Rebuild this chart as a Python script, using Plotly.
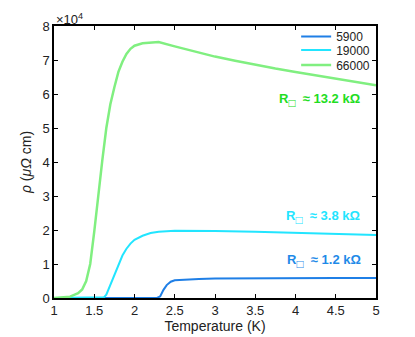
import plotly.graph_objs as pgo

# temperature (K) and resistivity (x1e4 uOhm cm)
t_5900 = [1.0, 2.0, 2.28, 2.32, 2.36, 2.4, 2.45, 2.5, 2.6, 2.8, 3.0, 3.5, 4.0, 4.5, 5.0]
rho_5900 = [0.0, 0.0, 0.0, 0.05, 0.24, 0.38, 0.48, 0.52, 0.54, 0.56, 0.57, 0.58, 0.58, 0.585, 0.585]

t_19000 = [1.0, 1.6, 1.62, 1.65, 1.7, 1.75, 1.8, 1.85, 1.9, 1.95, 2.0, 2.1, 2.2, 2.3,
           2.5, 2.75, 3.0, 3.5, 4.0, 4.5, 5.0]
rho_19000 = [0.0, 0.0, 0.02, 0.1, 0.4, 0.7, 1.0, 1.25, 1.45, 1.6, 1.71, 1.83, 1.91, 1.95,
             1.98, 1.98, 1.97, 1.95, 1.91, 1.88, 1.85]

t_66000 = [1.0, 1.1, 1.2, 1.3, 1.35, 1.4, 1.45, 1.5, 1.55, 1.6, 1.65, 1.7, 1.75, 1.8,
           1.85, 1.9, 1.95, 2.0, 2.1, 2.2, 2.3, 2.5, 2.75, 3.0, 3.25, 3.5, 3.75, 4.0,
           4.25, 4.5, 4.75, 5.0]
rho_66000 = [0.0, 0.01, 0.04, 0.14, 0.25, 0.5, 1.0, 1.95, 3.1, 4.05, 5.0, 5.7, 6.2, 6.65,
             6.95, 7.18, 7.33, 7.42, 7.49, 7.52, 7.53, 7.4, 7.25, 7.1, 6.98, 6.86, 6.75,
             6.65, 6.55, 6.45, 6.36, 6.26]

series = [
    ("5900", t_5900, rho_5900, "#1f7fe6", 2, "legend", 0.961),
    ("19000", t_19000, rho_19000, "#22e5ff", 2, "legend2", 0.912),
    ("66000", t_66000, rho_66000, "#80ef80", 2.5, "legend3", 0.857),
]

labels = [
    ("13.2", 4.30, 5.82, "#22dd22"),
    ("3.8", 4.34, 2.38, "#22e5ff"),
    ("1.2", 4.36, 1.07, "#1f8ae8"),
]

fig = pgo.Figure()
legends = {}
for name, t, rho, color, w, lg, ly in series:
    fig.add_trace(pgo.Scatter(x=t, y=rho, mode="lines", name=name, legend=lg,
                              line=dict(color=color, width=w)))
    # one legend per curve so the rows sit as tight as in the original
    legends[lg] = dict(x=0.752, y=ly, xanchor="left", yanchor="middle",
                       bgcolor="rgba(255,255,255,0)", font=dict(size=12, color="#222"),
                       itemwidth=30)

for val, x, y, color in labels:
    text = ("<b>R<span style='font-size:17px'><sub>□</sub></span>"
            "  ≈ " + val + " kΩ</b>")
    fig.add_annotation(x=x, y=y, text=text, showarrow=False,
                       font=dict(color=color, size=13))

fig.add_annotation(xref="paper", yref="paper", x=0, y=1, xanchor="left", yanchor="bottom",
                   text="×10<sup>4</sup>", showarrow=False, font=dict(size=13, color="#222"),
                   yshift=-3)

axis = dict(showline=True, linecolor="black", linewidth=1.5, mirror="ticks",
            ticks="inside", ticklen=4, tickcolor="black", showgrid=False, zeroline=False,
            tickfont=dict(size=13, color="#222"), automargin=False)

# page body adds an 8px offset, so margins are trimmed by 8 on the left/top
fig.update_layout(
    width=415, height=337,
    margin=dict(l=46, r=47, t=18, b=47),
    paper_bgcolor="white", plot_bgcolor="white",
    font=dict(family="Liberation Sans, Arial", color="#222"),
    xaxis=dict(axis, range=[1, 5], tickvals=[1, 1.5, 2, 2.5, 3, 3.5, 4, 4.5, 5],
               ticktext=["1", "1.5", "2", "2.5", "3", "3.5", "4", "4.5", "5"],
               title=dict(text="Temperature (K)", font=dict(size=14), standoff=4)),
    yaxis=dict(axis, range=[0, 8], dtick=1,
               title=dict(text="<i>ρ</i> (<i>μΩ</i> cm)", font=dict(size=14), standoff=8)),
    showlegend=True,
    **legends,
)

fig.write_html("out.html")
